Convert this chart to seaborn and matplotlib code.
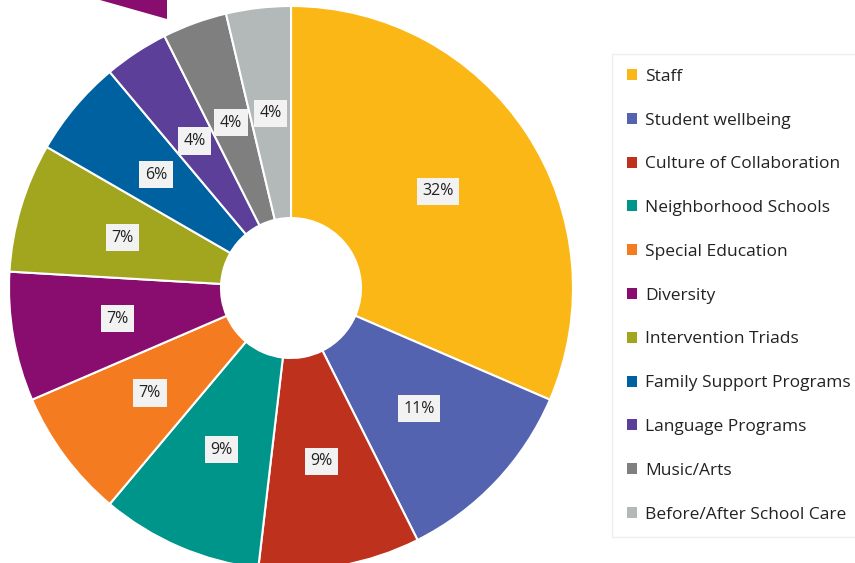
import matplotlib
matplotlib.use('Agg')
import matplotlib.pyplot as plt
from matplotlib.patches import Patch, Polygon
import numpy as np
import seaborn as sns

sns.set_theme(style="white")
plt.rcParams['font.family'] = ['Open Sans', 'DejaVu Sans']

# data: response counts per category (54 total)
categories = ["Staff", "Student wellbeing", "Culture of Collaboration",
              "Neighborhood Schools", "Special Education", "Diversity",
              "Intervention Triads", "Family Support Programs",
              "Language Programs", "Music/Arts", "Before/After School Care"]
counts = [17, 6, 5, 5, 4, 4, 4, 3, 2, 2, 2]
colors = ["#FBB715", "#5363AF", "#BE311C", "#00958A", "#F47B20", "#880D6E",
          "#A2A51E", "#0061A0", "#5C3F98", "#7F7F7F", "#B3B8B8"]

# percentages rounded so they add up to 100 (largest remainder)
raw = np.array(counts) / sum(counts) * 100
pcts = np.floor(raw).astype(int)
order = np.argsort(-(raw - pcts), kind="stable")
pcts[order[:100 - pcts.sum()]] += 1
pct_iter = iter(pcts)

W, H = 855, 563
fig = plt.figure(figsize=(W / 100, H / 100), dpi=100)
ax = fig.add_axes([0, 0, 1, 1])

palette = sns.color_palette(colors)
wedges, texts, autotexts = ax.pie(
    counts, colors=palette, startangle=90, counterclock=False,
    center=(291, H - 288), radius=282, pctdistance=0.624,
    autopct=lambda p: f"{next(pct_iter)}%",
    wedgeprops=dict(width=212, edgecolor="white", linewidth=1.5),
    textprops=dict(fontsize=11.5, color="#222222"))
for t in autotexts:
    t.set_bbox(dict(boxstyle="square,pad=0.35", facecolor="#F2F2F2", edgecolor="none"))

ax.set_xlim(0, W)
ax.set_ylim(0, H)
ax.set_aspect("equal")
ax.axis("off")

# clipped shape peeking in at top-left
ax.add_patch(Polygon([(100, H), (167, H), (167, H - 19)], closed=True,
                     facecolor="#880D6E", edgecolor="none"))

handles = [Patch(facecolor=c, edgecolor="none") for c in palette]
leg = fig.legend(handles, categories, loc="upper left",
                 bbox_to_anchor=(612 / W, 1 - 54 / H), borderaxespad=0,
                 fontsize=12.5, frameon=True, fancybox=False,
                 handlelength=0.6, handleheight=0.6, handletextpad=0.45,
                 labelspacing=1.6, borderpad=0.85)
leg.get_frame().set_edgecolor("#EBEBEB")
leg.get_frame().set_linewidth(1)
for t in leg.get_texts():
    t.set_color("#222222")

fig.savefig("out.png", dpi=100)
